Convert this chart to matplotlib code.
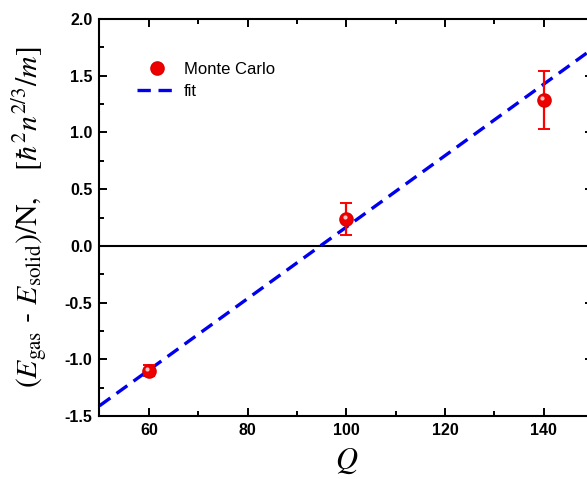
import numpy as np
import matplotlib
matplotlib.use("Agg")
import matplotlib.pyplot as plt

plt.rcParams['mathtext.fontset'] = 'stix'
plt.rcParams['font.family'] = ['Liberation Sans', 'DejaVu Sans']

# Monte Carlo points
Q = [60, 100, 140]
dE = [-1.10, 0.24, 1.285]
dE_err = [0.05, 0.14, 0.255]

# linear fit, read at the axis ends
fit_x = [50, 150]
fit_y = [-1.41, 1.74]

fig = plt.figure(figsize=(5.87, 4.79), dpi=100)
ax = fig.add_axes([0.1695, 0.1315, 0.8407, 0.8288])

ax.axhline(0, color='black', lw=1.5, zorder=1)
ax.plot(fit_x, fit_y, color='#0000ee', lw=2.4, dashes=(4, 2.3), label='fit', zorder=2)
ax.errorbar(Q, dE, yerr=dE_err, fmt='none', ecolor='red', elinewidth=1.6,
            capsize=4, capthick=1.4, zorder=3)
ax.plot(Q, dE, 'o', color='#ee0000', ms=9.5, mec='#dd0000', ls='none',
        label='Monte Carlo', zorder=4)
# small highlight on the spheres
ax.plot(Q, dE, 'o', color='#ffc0c0', ms=3, mew=0, ls='none', zorder=5,
        transform=ax.transData + matplotlib.transforms.ScaledTranslation(-1.5/100, 2/100, fig.dpi_scale_trans))

ax.set_xlim(50, 150)
ax.set_ylim(-1.5, 2.0)
ax.set_xticks([60, 80, 100, 120, 140])
ax.set_xticks(np.arange(50, 151, 10), minor=True)
ax.set_yticks(np.arange(-1.5, 2.01, 0.5))
ax.set_yticks(np.arange(-1.5, 2.01, 0.25), minor=True)
ax.set_yticklabels([f'{v:.1f}' for v in np.arange(-1.5, 2.01, 0.5)])
ax.tick_params(which='both', direction='in', top=True, right=True, width=1.4)
ax.tick_params(which='major', length=6, labelsize=11.5, pad=5)
ax.tick_params(which='minor', length=3.5)
for lab in ax.get_xticklabels() + ax.get_yticklabels():
    lab.set_fontweight('bold')
for sp in ax.spines.values():
    sp.set_linewidth(1.5)

ax.set_xlabel(r'$Q$', fontsize=22, labelpad=6)
ax.set_ylabel(r'$(E_{\rm gas}$ - $E_{\rm solid})/\mathrm{N},\ \ \ [\hbar^2 n^{2/3}/m]$',
              fontsize=21.5, labelpad=11)

h, l = ax.get_legend_handles_labels()
ax.legend([h[1], h[0]], [l[1], l[0]], loc='upper left', bbox_to_anchor=(0.045, 0.93),
          frameon=False, fontsize=12, handlelength=2.4, handletextpad=0.45,
          labelspacing=0.45, numpoints=1)

fig.savefig('out.png', dpi=100)
